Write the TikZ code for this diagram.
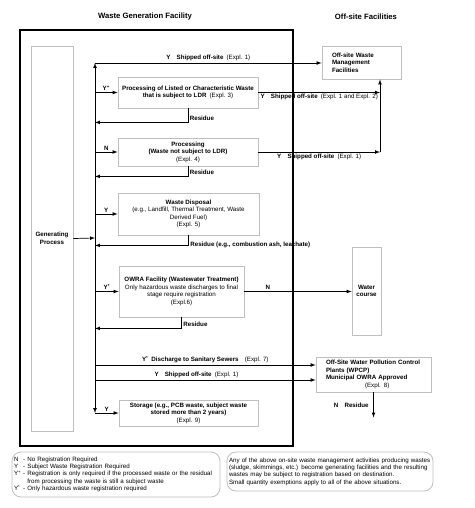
\documentclass[tikz,border=0pt]{standalone}
\usepackage{fontspec}
\setmainfont{Liberation Sans}
\usepackage{tikz}
\usetikzlibrary{positioning}
\usetikzlibrary{arrows}

\begin{document}
\begin{tikzpicture}[
	  x=1pt, y=-1pt,
	  %style for arrows
	  arrw/.style={line width=0.7pt, ->, >=latex},
      % style for boxes
      bx/.style={rectangle, draw=black!25, line width=0.8pt, fill=white, inner sep=0pt, align=center, font=\fontsize{6.2}{7.5}\selectfont\bfseries},
      % style for labels on the arrows
      lbl/.style={font=\fontsize{6.2}{7.5}\selectfont\bfseries, inner sep=1.5pt},
      % style for titles
      ttl/.style={font=\fontsize{7.7}{9}\selectfont\bfseries},
      % style for legend boxes
      lgd/.style={rectangle, rounded corners=9pt, draw=black!25, line width=0.8pt, inner sep=0pt, align=left, font=\fontsize{6.2}{7.4}\selectfont}]

      \useasboundingbox (0,0) rectangle (474,508);

      % facility frame
      \draw[line width=1.2pt] (20,30) rectangle (293,446);

      \node[ttl](wgftitle) at (145,17) {Waste Generation Facility};
      \node[ttl](offtitle) at (366,17) {Off-site Facilities};

      \node[bx, minimum width=42pt, minimum height=385pt](genproc) at (52,238.5) {Generating\\Process};
      \node[bx, minimum width=79pt, minimum height=33pt, text width=59pt, align=left](offsite) at (361.5,62.5) {Off-site Waste\\Management\\Facilities};
      \node[bx, minimum width=140pt, minimum height=31pt](ldrproc) at (188,92.5) {Processing of Listed or Characteristic Waste\\that is subject to LDR\enspace\textmd{(Expl. 3)}};
      \node[bx, minimum width=140pt, minimum height=28pt](proc) at (188,152) {Processing\\(Waste not subject to LDR)\\\textmd{(Expl. 4)}};
      \node[bx, minimum width=141pt, minimum height=42pt](disposal) at (188.5,214) {Waste Disposal\\\textmd{(e.g., Landfill, Thermal Treatment, Waste}\\\textmd{Derived Fuel)}\\\textmd{(Expl. 5)}};
      \node[bx, minimum width=125pt, minimum height=51pt](owra) at (181.5,291.5) {OWRA Facility (Wastewater Treatment)\\\textmd{Only hazardous waste discharges to final}\\\textmd{stage require registration}\\\textmd{(Expl.6)}};
      \node[bx, minimum width=29pt, minimum height=88pt](water) at (366.5,291) {Water\\course};
      \node[bx, minimum width=115pt, minimum height=35pt, text width=95pt, align=left](wpcp) at (373.5,374.5) {Off-Site Water Pollution Control\\Plants (WPCP)\\Municipal OWRA Approved\\\hspace*{39pt}\textmd{(Expl. 8)}};
      \node[bx, minimum width=139pt, minimum height=26pt](storage) at (188.5,413) {Storage (e.g., PCB waste, subject waste\\stored more than 2 years)\\\textmd{(Expl. 9)}};

      \coordinate (busgen) at (95,238);
      \coordinate (bustop) at (95,63);
      \coordinate (busbot) at (95,413);
      \coordinate (rbus) at (380,152);
      \coordinate (sewer) at (95,365);
      \coordinate (shipw) at (95,380);

      \draw[arrw] (genproc.east) -- (busgen);
      \draw[arrw] (busgen) -- (bustop);
      \draw[arrw] (busgen) -- (busbot);
      \draw[arrw] (bustop) -- node[lbl, above] {Y\quad Shipped off-site\enspace\textmd{(Expl. 1)}} (offsite.west |- bustop);

      \draw[arrw] (bustop |- ldrproc.west) -- node[lbl, above] {Y\textsuperscript{+}} (ldrproc.west);
      \draw[arrw] (ldrproc.east) -- node[lbl, below] {Y\quad Shipped off-site\enspace\textmd{(Expl. 1 and Expl. 2)}} (ldrproc.east -| rbus);
      \draw[arrw] (ldrproc.south) -- ++(0,14) coordinate (res1) node[lbl, above right] {Residue} -- (res1 -| bustop);

      \draw[arrw] (bustop |- proc.west) -- node[lbl, above] {N} (proc.west);
      \draw[arrw] (proc.east) -- node[lbl, below] {Y\quad Shipped off-site\enspace\textmd{(Expl. 1)}} (rbus);
      \draw[arrw] (rbus) -- (rbus |- offsite.south);
      \draw[arrw] (proc.south) -- ++(0,10) coordinate (res2) node[lbl, above right] {Residue} -- (res2 -| bustop);

      \draw[arrw] (bustop |- disposal.west) -- node[lbl, above] {Y} (disposal.west);
      \draw[arrw] (disposal.south) -- ++(0,10) coordinate (res3) node[lbl, right] {Residue (e.g., combustion ash, leachate)} -- (res3 -| bustop);

      \draw[arrw] (bustop |- owra.west) -- node[lbl, above] {Y\textsuperscript{*}} (owra.west);
      \draw[arrw] (owra.east) -- node[lbl, above, pos=0.22] {N} (water.west |- owra.east);
      \draw[arrw] (owra.south) -- ++(0,11) coordinate (res4) node[lbl, above right] {Residue} -- (res4 -| bustop);

      \draw[arrw] (sewer) -- node[lbl, above] {Y\textsuperscript{*}\enspace Discharge to Sanitary Sewers\quad\textmd{(Expl. 7)}} (sewer -| wpcp.west);
      \draw[arrw] (shipw) -- node[lbl, above, pos=0.46] {Y\quad Shipped off-site\enspace\textmd{(Expl. 1)}} (shipw -| wpcp.west);
      \draw[arrw] (wpcp.south) -- node[lbl, left, xshift=-3pt] {N\quad Residue} ++(0,25);

      \draw[arrw] (busbot) -- node[lbl, above] {Y} (storage.west);

      % legends
      \node[lgd, minimum width=208pt, minimum height=45pt, text width=204pt](legkey) at (116,474.5) {%
        \begin{tabular}{@{}l@{\ }l@{}}
        N & - No Registration Required\\
        Y & - Subject Waste Registration Required\\
        Y\textsuperscript{+} & - Registration is only required if the processed waste or the residual\\
         & \phantom{- }from processing the waste is still a subject waste\\
        Y\textsuperscript{*} & - Only hazardous waste registration required
        \end{tabular}};
      \node[lgd, minimum width=206pt, minimum height=39pt, text width=202pt](legnote) at (330,471.5) {Any of the above on-site waste management activities producing wastes\\(sludge, skimmings, etc.) become generating facilities and the resulting\\wastes may be subject to registration based on destination.\\Small quantity exemptions apply to all of the above situations.};

\end{tikzpicture}
\end{document}
